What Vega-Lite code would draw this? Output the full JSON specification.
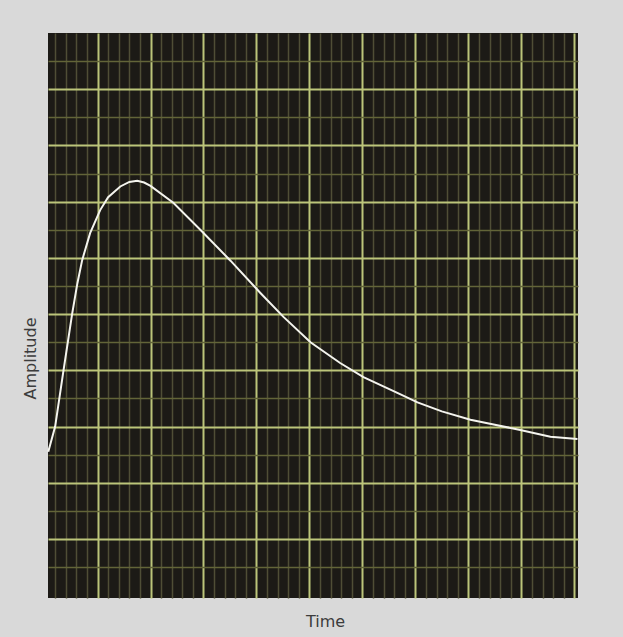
{
  "$schema": "https://vega.github.io/schema/vega-lite/v6.json",
  "width": 530,
  "height": 565,
  "autosize": {"type": "none"},
  "padding": {"left": 48, "top": 33, "right": 45, "bottom": 39},
  "background": "#d9d9d9",
  "config": {
    "view": {"fill": "#1c1a16", "stroke": null},
    "font": "DejaVu Sans"
  },
  "data": {
    "values": [
      {"t": 0.07, "a": 2.55},
      {"t": 0.2, "a": 3.0},
      {"t": 0.35, "a": 3.95},
      {"t": 0.52, "a": 5.0},
      {"t": 0.62, "a": 5.55},
      {"t": 0.71, "a": 5.96},
      {"t": 0.86, "a": 6.44},
      {"t": 1.05, "a": 6.85},
      {"t": 1.2, "a": 7.08},
      {"t": 1.43, "a": 7.27},
      {"t": 1.6, "a": 7.35},
      {"t": 1.75, "a": 7.37},
      {"t": 1.88, "a": 7.34},
      {"t": 2.0, "a": 7.28},
      {"t": 2.43, "a": 6.98},
      {"t": 2.94, "a": 6.5},
      {"t": 3.51, "a": 5.95},
      {"t": 4.07, "a": 5.38},
      {"t": 4.51, "a": 4.95},
      {"t": 5.02, "a": 4.5},
      {"t": 5.58, "a": 4.13},
      {"t": 6.02, "a": 3.88},
      {"t": 6.66, "a": 3.6},
      {"t": 7.04, "a": 3.43},
      {"t": 7.5, "a": 3.27},
      {"t": 8.04, "a": 3.12},
      {"t": 8.5, "a": 3.03},
      {"t": 8.98, "a": 2.94},
      {"t": 9.55, "a": 2.82},
      {"t": 10.06, "a": 2.78}
    ]
  },
  "layer": [
    {
      "mark": {"type": "line", "opacity": 0},
      "encoding": {
        "x": {
          "field": "t",
          "type": "quantitative",
          "scale": {"domain": [0.065, 10.07], "nice": false, "zero": false},
          "axis": {
            "values": [0.2, 0.4, 0.6, 0.8, 1.2, 1.4, 1.6, 1.8, 2.2, 2.4, 2.6, 2.8, 3.2, 3.4, 3.6, 3.8, 4.2, 4.4, 4.6, 4.8, 5.2, 5.4, 5.6, 5.8, 6.2, 6.4, 6.6, 6.8, 7.2, 7.4, 7.6, 7.8, 8.2, 8.4, 8.6, 8.8, 9.2, 9.4, 9.6, 9.8],
            "grid": true,
            "gridColor": "#4f4e36",
            "gridWidth": 1.5,
            "labels": false,
            "ticks": false,
            "domain": false,
            "title": "Time",
            "titleX": 277,
            "titleY": 23,
            "titleBaseline": "middle",
            "titleAlign": "center",
            "titleFontSize": 16,
            "titleFontWeight": "normal",
            "titleColor": "#3c3c3c"
          }
        },
        "y": {
          "field": "a",
          "type": "quantitative",
          "scale": {"domain": [-0.05, 10], "nice": false, "zero": false},
          "axis": {
            "values": [0.5, 1.5, 2.5, 3.5, 4.5, 5.5, 6.5, 7.5, 8.5, 9.5],
            "grid": true,
            "gridColor": "#626438",
            "gridWidth": 1.5,
            "labels": false,
            "ticks": false,
            "domain": false,
            "title": "Amplitude",
            "titleX": -18,
            "titleY": 325,
            "titleAngle": -90,
            "titleBaseline": "middle",
            "titleAlign": "center",
            "titleFontSize": 16,
            "titleFontWeight": "normal",
            "titleColor": "#3c3c3c"
          }
        }
      }
    },
    {
      "mark": {"type": "line", "color": "#f4f4ee", "strokeWidth": 2, "interpolate": "linear"},
      "encoding": {
        "x": {
          "field": "t",
          "type": "quantitative",
          "scale": {"domain": [0.065, 10.07], "nice": false, "zero": false},
          "axis": {
            "values": [1, 2, 3, 4, 5, 6, 7, 8, 9, 10],
            "grid": true,
            "gridColor": "#bcc57a",
            "gridWidth": 2,
            "labels": false,
            "ticks": false,
            "domain": false,
            "title": null
          }
        },
        "y": {
          "field": "a",
          "type": "quantitative",
          "scale": {"domain": [-0.05, 10], "nice": false, "zero": false},
          "axis": {
            "values": [1, 2, 3, 4, 5, 6, 7, 8, 9],
            "grid": true,
            "gridColor": "#bcc57a",
            "gridWidth": 2,
            "labels": false,
            "ticks": false,
            "domain": false,
            "title": null
          }
        }
      }
    }
  ],
  "resolve": {"axis": {"x": "independent", "y": "independent"}}
}
